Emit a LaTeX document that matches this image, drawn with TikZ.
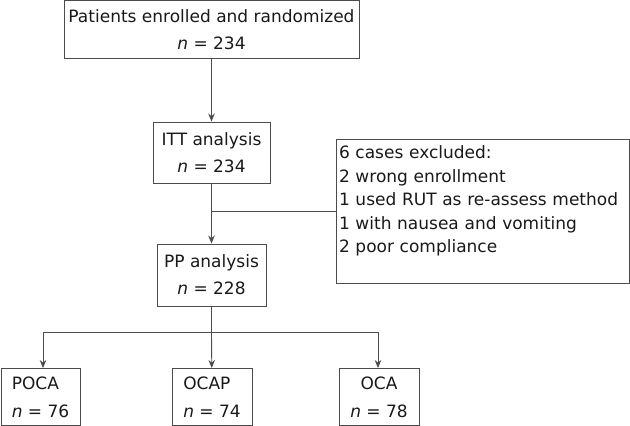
\documentclass[tikz,border=0pt]{standalone}
\usepackage{fontspec}
\setmainfont{DejaVu Sans}
\usetikzlibrary{arrows.meta}

\begin{document}
\begin{tikzpicture}[>={Stealth[length=8pt,width=6.5pt]}, x=1pt, y=-1pt,
        box/.style={draw=black!70, line width=0.9pt, inner sep=0pt, text=black!90, font=\fontsize{17}{27}\selectfont, align=center},
        line/.style={draw=black!70, line width=0.9pt}]

        % Frame
        \useasboundingbox (0,0) rectangle (630,426);

        % Boxes
        \node[box, minimum width=295, minimum height=58] (top) at (211.5,29.5) {Patients enrolled and randomized\\\textit{n} = 234};
        \node[box, minimum width=117, minimum height=61] (itt) at (211.5,152.5) {ITT analysis\\\textit{n} = 234};
        \node[box, minimum width=109, minimum height=62] (pp) at (211.5,275) {PP analysis\\\textit{n} = 228};
        \node[box, minimum height=144, inner xsep=3, text width=287, align=left, font=\fontsize{17}{23.5}\selectfont] (excl) at (482.5,211) {6 cases excluded:\\2 wrong enrollment\\1 used RUT as re-assess method\\1 with nausea and vomiting\\2 poor compliance\\\mbox{}};

        % Groups
        \node[box, minimum width=79, minimum height=57, align=left, font=\fontsize{17}{28}\selectfont] (poca) at (40.5,397) {POCA\\\textit{n} = 76};
        \node[box, minimum width=80, minimum height=57, align=left, font=\fontsize{17}{28}\selectfont] (ocap) at (212,397) {OCAP\\\textit{n} = 74};
        \node[box, minimum width=80, minimum height=57, font=\fontsize{17}{28}\selectfont] (oca) at (379,397) {OCA\\\textit{n} = 78};

        % Main flow
        \draw[line, ->] (top) -- (itt);
        \draw[line, ->] (itt) -- (pp);
        \coordinate (cut) at (211.5,211);
        \draw[line] (cut) -- (excl.west |- cut);

        % Branches
        \coordinate (split) at (211.5,332);
        \coordinate (left) at (43,332);
        \coordinate (right) at (378,332);
        \draw[line] (pp) -- (split);
        \draw[line] (left) -- (right);
        \draw[line, ->] (left) -- (left |- poca.north);
        \draw[line, ->] (split) -- (ocap);
        \draw[line, ->] (right) -- (right |- oca.north);
        \end{tikzpicture}
\end{document}
